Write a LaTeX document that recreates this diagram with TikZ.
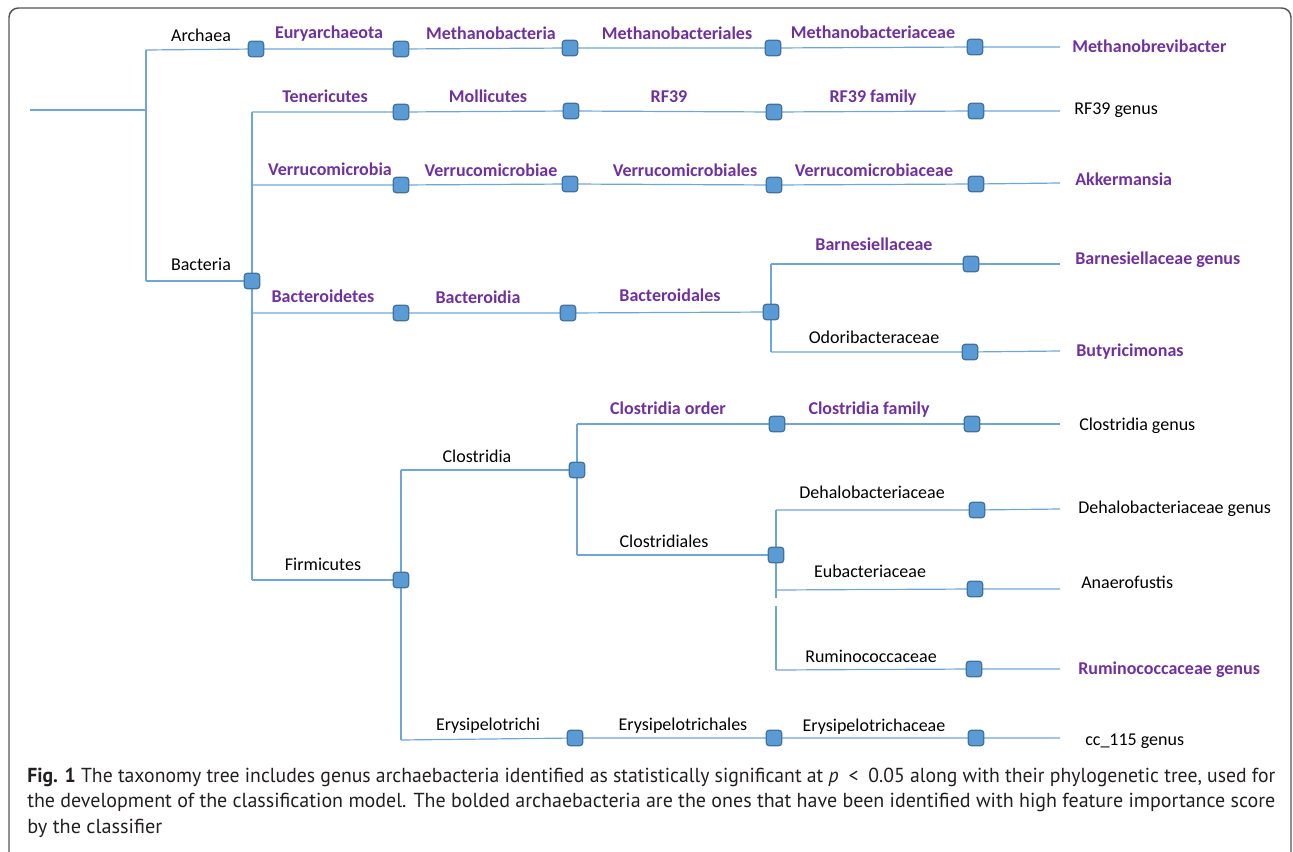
\documentclass[tikz,border=0pt]{standalone}
\usepackage{fontspec}
\usepackage{graphicx}
\setmainfont{Carlito}
\newfontfamily\capfont{PT Sans}
\usetikzlibrary{backgrounds}
\definecolor{purp}{HTML}{7030A0}
\definecolor{lnblue}{HTML}{6FA6DA}
\definecolor{sqfill}{HTML}{5B9BD5}
\definecolor{sqedge}{HTML}{41719C}
\definecolor{framec}{HTML}{555555}
\definecolor{captxt}{HTML}{231F20}
\begin{document}
\begin{tikzpicture}[x=0.75pt,y=-0.75pt,
  sq/.style={draw=sqedge, fill=sqfill, line width=0.9pt, rounded corners=2.2pt, minimum size=11.6pt, inner sep=0pt},
  br/.style={draw=lnblue, line width=0.9pt},
  tx/.style={font=\fontsize{13.5pt}{16pt}\selectfont, inner sep=0pt, anchor=base, text=black},
  bx/.style={tx, font=\fontsize{13.5pt}{16pt}\selectfont\bfseries, text=purp},
  ltx/.style={tx, anchor=base west},
  lbx/.style={bx, anchor=base west},
  captext/.style={font=\capfont\fontsize{15.2pt}{19pt}\selectfont, text=captxt, inner sep=0pt, anchor=base west},
]
\useasboundingbox (0,0) rectangle (1293,852);
\begin{scope}
  \clip (0,0) rectangle (1293,852);
  \draw[framec, line width=1.1pt, rounded corners=7pt] (9,8) rectangle (1291,864);
\end{scope}

% ---------- square nodes ----------
\node[sq] (A1) at (256,49) {};
\node[sq] (A2) at (401,49) {};
\node[sq] (A3) at (570,48) {};
\node[sq] (A4) at (773,48) {};
\node[sq] (A5) at (975,47) {};
\node[sq] (B) at (252,281) {};
\node[sq] (T1) at (401,112) {};
\node[sq] (T2) at (571,111) {};
\node[sq] (T3) at (774,112) {};
\node[sq] (T4) at (976,111) {};
\node[sq] (V1) at (401,185) {};
\node[sq] (V2) at (570,184) {};
\node[sq] (V3) at (774,185) {};
\node[sq] (V4) at (976,184) {};
\node[sq] (D1) at (401,313) {};
\node[sq] (D2) at (568,313) {};
\node[sq] (D3) at (771,312) {};
\node[sq] (DB) at (971,264) {};
\node[sq] (DO) at (970,352) {};
\node[sq] (F) at (401,580) {};
\node[sq] (C) at (577,470) {};
\node[sq] (CO) at (777,424) {};
\node[sq] (CF) at (972,424) {};
\node[sq] (CL) at (776,555) {};
\node[sq] (DH) at (977,510) {};
\node[sq] (EU) at (975,589) {};
\node[sq] (RU) at (974,669) {};
\node[sq] (E1) at (575,738) {};
\node[sq] (E2) at (774,738) {};
\node[sq] (E3) at (976,738) {};

% ---------- coordinates ----------
\coordinate (root) at (30,110);
\coordinate (j0) at (146,110);
\coordinate (a0) at (146,50);
\coordinate (b0) at (146,281);
\coordinate (bt) at (252,112);
\coordinate (bv) at (252,185);
\coordinate (bd) at (252,313);
\coordinate (bb) at (252,580);
\coordinate (ft) at (401,470);
\coordinate (fb) at (401,740);
\coordinate (ct) at (577,424);
\coordinate (cb) at (577,555);
\coordinate (dt) at (771,264);
\coordinate (db) at (771,352);
\coordinate (lt1) at (776,510);
\coordinate (lm1) at (776,598);
\coordinate (lm2) at (776,606);
\coordinate (le) at (776,590);
\coordinate (lb) at (776,670);
\coordinate (eA) at (1060,47);
\coordinate (eT) at (1060,111);
\coordinate (eV) at (1060,183);
\coordinate (eB) at (1060,264);
\coordinate (eO) at (1060,351);
\coordinate (eC) at (1060,424);
\coordinate (eD) at (1060,509);
\coordinate (eE) at (1060,589);
\coordinate (eR) at (1060,669);
\coordinate (eY) at (1060,738);

% ---------- connectors ----------
\begin{pgfonlayer}{background}
\draw[br] (root) -- (j0);
\draw[br] (a0) -- (b0);
\draw[br] (a0) -- (A1.center) -- (A2.center) -- (A3.center) -- (A4.center) -- (A5.center) -- (eA);
\draw[br] (b0) -- (B.center);
\draw[br] (bt) -- (bb);
\draw[br] (bt) -- (T1.center) -- (T2.center) -- (T3.center) -- (T4.center) -- (eT);
\draw[br] (bv) -- (V1.center) -- (V2.center) -- (V3.center) -- (V4.center) -- (eV);
\draw[br] (bd) -- (D1.center) -- (D2.center) -- (D3.center);
\draw[br] (dt) -- (db);
\draw[br] (dt) -- (DB.center) -- (eB);
\draw[br] (db) -- (DO.center) -- (eO);
\draw[br] (bb) -- (F.center);
\draw[br] (ft) -- (fb);
\draw[br] (ft) -- (C.center);
\draw[br] (ct) -- (cb);
\draw[br] (ct) -- (CO.center) -- (CF.center) -- (eC);
\draw[br] (cb) -- (CL.center);
\draw[br] (lt1) -- (lm1);
\draw[br] (lm2) -- (lb);
\draw[br] (lt1) -- (DH.center) -- (eD);
\draw[br] (le) -- (EU.center) -- (eE);
\draw[br] (lb) -- (RU.center) -- (eR);
\draw[br] (fb) -- (E1.center) -- (E2.center) -- (E3.center) -- (eY);
\end{pgfonlayer}

% ---------- labels ----------
\node[tx] (lArch) at (201,42) {Archaea};
\node[bx] (lEury) at (329,39) {Euryarchaeota};
\node[bx] (lMb) at (491,40) {Methanobacteria};
\node[bx] (lMbl) at (677,40) {Methanobacteriales};
\node[bx] (lMbc) at (873,39) {Methanobacteriaceae};
\node[lbx] (lMbr) at (1072,53) {Methanobrevibacter};

\node[bx] (lTen) at (325,103) {Tenericutes};
\node[bx] (lMol) at (488,103) {Mollicutes};
\node[bx] (lRF) at (669,103) {RF39};
\node[bx] (lRFf) at (873,103) {RF39 family};
\node[ltx] (lRFg) at (1074,115) {RF39 genus};

\node[bx] (lVer) at (330,176) {Verrucomicrobia};
\node[bx] (lVe2) at (491,177) {Verrucomicrobiae};
\node[bx] (lVe3) at (685,177) {Verrucomicrobiales};
\node[bx] (lVe4) at (874,177) {Verrucomicrobiaceae};
\node[lbx] (lAkk) at (1075,186) {Akkermansia};

\node[tx] (lBac) at (201,271) {Bacteria};
\node[bx] (lBct) at (323,303) {Bacteroidetes};
\node[bx] (lBia) at (478,304) {Bacteroidia};
\node[bx] (lBal) at (670,302) {Bacteroidales};
\node[bx] (lBar) at (874,251) {Barnesiellaceae};
\node[lbx] (lBarg) at (1075,265) {Barnesiellaceae genus};
\node[tx] (lOdo) at (874,344) {Odoribacteraceae};
\node[lbx] (lBut) at (1076,357) {Butyricimonas};

\node[tx] (lFir) at (323,570) {Firmicutes};
\node[tx] (lCla) at (477,462) {Clostridia};
\node[bx] (lCor) at (668,414) {Clostridia order};
\node[bx] (lCfa) at (869,414) {Clostridia family};
\node[ltx] (lCge) at (1079,431) {Clostridia genus};
\node[tx] (lCli) at (664,547) {Clostridiales};
\node[tx] (lDeh) at (872,498) {Dehalobacteriaceae};
\node[ltx] (lDehg) at (1078,513) {Dehalobacteriaceae genus};
\node[tx] (lEub) at (870,577) {Eubacteriaceae};
\node[ltx] (lAna) at (1081,588) {Anaerofustis};
\node[tx] (lRum) at (871,662) {Ruminococcaceae};
\node[lbx] (lRumg) at (1078,674) {Ruminococcaceae genus};
\node[tx] (lEr1) at (488,730) {Erysipelotrichi};
\node[tx] (lEr2) at (683,730) {Erysipelotrichales};
\node[tx] (lEr3) at (874,731) {Erysipelotrichaceae};
\node[ltx] (lcc) at (1085,745) {cc\_115 genus};

% ---------- caption ----------
\node[captext] (cap1) at (27,782) {\resizebox{936pt}{\height}{\textbf{Fig. 1} The taxonomy tree includes genus archaebacteria identified as statistically significant at \textit{p}\enspace<\enspace0.05 along with their phylogenetic tree, used for}};
\node[captext] (cap2) at (27,807.5) {\resizebox{936pt}{\height}{the development of the classification model. The bolded archaebacteria are the ones that have been identified with high feature importance score}};
\node[captext] (cap3) at (27,833) {by the classifier};
\end{tikzpicture}
\end{document}
